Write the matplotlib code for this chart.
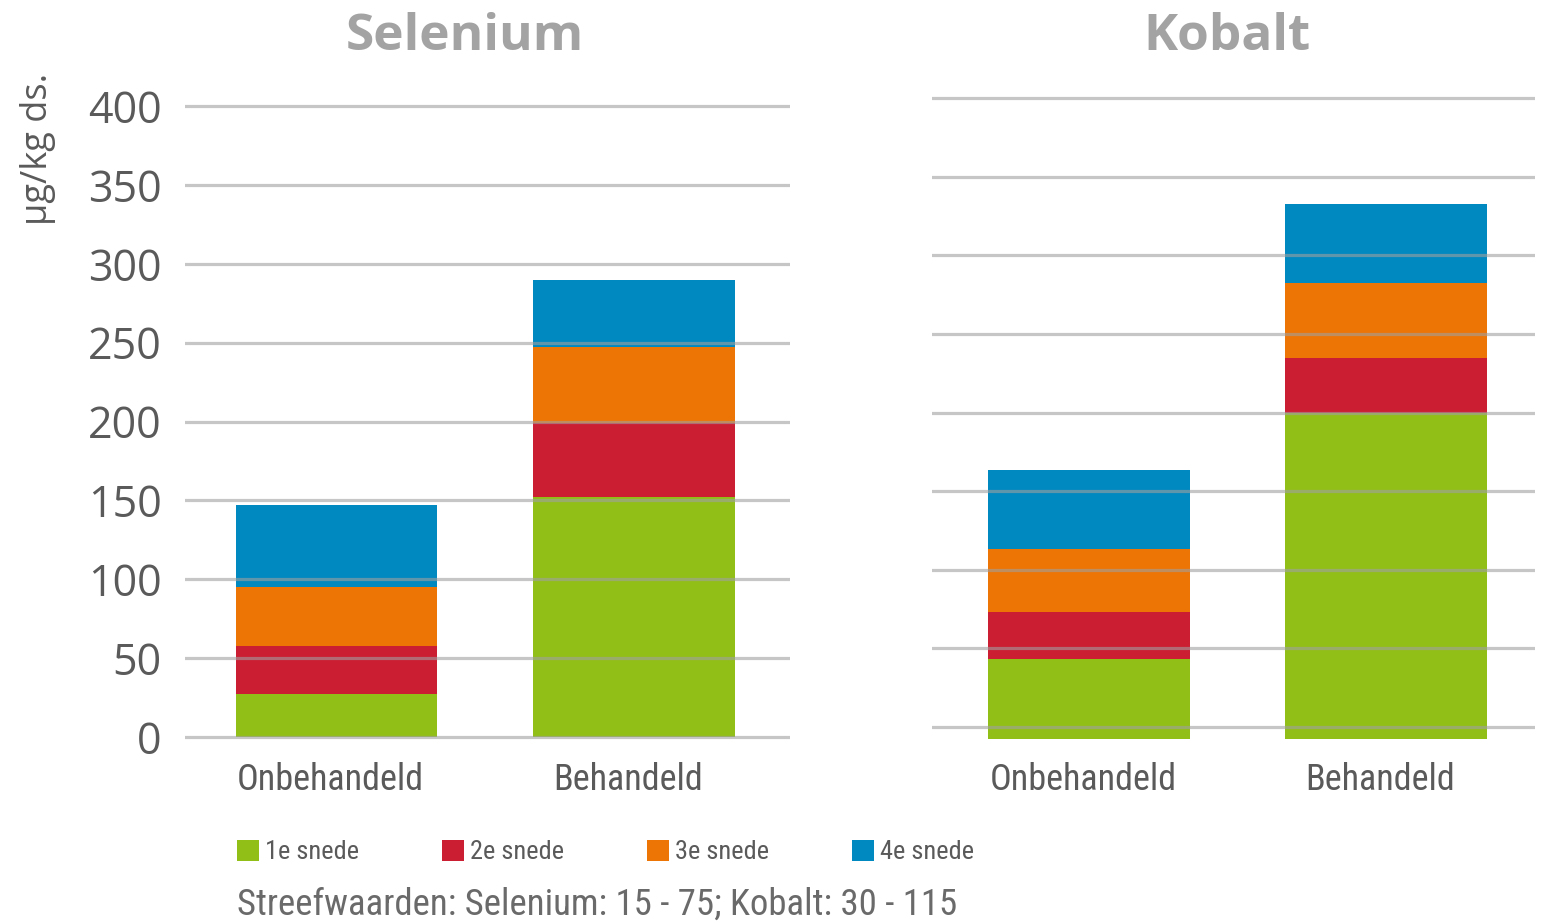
import matplotlib
matplotlib.use("Agg")
import matplotlib.pyplot as plt
from matplotlib import font_manager
import numpy as np

# ---------------- data ----------------
categories = ["Onbehandeld", "Behandeld"]
series_labels = ["1e snede", "2e snede", "3e snede", "4e snede"]
selenium = {
    "1e snede": [27, 152],
    "2e snede": [31, 47],
    "3e snede": [37, 48],
    "4e snede": [52, 43],
}
kobalt = {
    "1e snede": [51, 207],
    "2e snede": [30, 35],
    "3e snede": [40, 48],
    "4e snede": [50, 50],
}
yticks = [0, 50, 100, 150, 200, 250, 300, 350, 400]
colors = ["#92be18", "#cc1e33", "#ec7505", "#0088c0"]
title_sel = "Selenium"
title_kob = "Kobalt"
ylabel = "µg/kg ds."
footer = "Streefwaarden: Selenium: 15 - 75; Kobalt: 30 - 115"


def pick(*fams):
    for f in fams:
        try:
            font_manager.findfont(font_manager.FontProperties(family=f),
                                  fallback_to_default=False)
            return f
        except Exception:
            continue
    return "DejaVu Sans"

F_MAIN = pick("Open Sans", "Lato", "DejaVu Sans")
F_NARROW = pick("Liberation Sans Narrow", "Roboto Condensed", "Open Sans")

W, H = 1543, 923
fig = plt.figure(figsize=(W / 100, H / 100), dpi=100)
fig.patch.set_facecolor("white")


def rect(x0, x1, zero_px, scale, lo, hi):
    bottom = zero_px - lo * scale
    top = zero_px - hi * scale
    return [x0 / W, (H - bottom) / H, (x1 - x0) / W, (bottom - top) / H]


GRID_C = "#a0a0a0"
TXT = "#5a5a5a"


def draw(ax, data, width, grid_vals):
    x = np.arange(len(categories))
    bottom = np.zeros(len(categories))
    handles = []
    for lab, col in zip(series_labels, colors):
        vals = np.array(data[lab], dtype=float)
        b = ax.bar(x, vals, width, bottom=bottom, color=col, label=lab,
                   zorder=2, linewidth=0)
        handles.append(b)
        bottom += vals
    for g in grid_vals:
        ax.axhline(g, color=GRID_C, alpha=0.6, lw=2.3, zorder=3)
    for s in ax.spines.values():
        s.set_visible(False)
    ax.set_xticks(x - 0.02)
    ax.set_xticklabels(categories, family=F_NARROW, fontsize=26, color=TXT)
    ax.tick_params(axis="both", length=0)
    return handles


# Selenium panel
s_sel = (737 - 106) / 400.0
lo, hi = -5, 430
ax1 = fig.add_axes(rect(185, 790, 737, s_sel, lo, hi))
ax1.set_ylim(lo, hi)
ax1.set_xlim(-0.509, 1.524)
handles = draw(ax1, selenium, 0.676, yticks)
ax1.set_yticks(yticks)
ax1.set_yticklabels([str(v) for v in yticks], family=F_MAIN, fontsize=31, color=TXT)
ax1.tick_params(axis="y", pad=17)
ax1.tick_params(axis="x", pad=(762 - (737 - lo * s_sel)) * 72 / 100)

# Kobalt panel (grid lines slightly above bar base, as in source)
s_kob = (727 - 98) / 400.0
zero_k = 739
off = (zero_k - 727) / s_kob
ax2 = fig.add_axes(rect(932, 1535, zero_k, s_kob, lo, hi))
ax2.set_ylim(lo, hi)
ax2.set_xlim(-0.5286, 1.5017)
draw(ax2, kobalt, 0.68, [v + off for v in yticks])
ax2.set_yticks([])
ax2.tick_params(axis="x", pad=(762 - (zero_k - lo * s_kob)) * 72 / 100)

# titles
fig.text(465 / W, 1 - 37 / H, title_sel, ha="center", va="center",
         family=F_MAIN, fontweight="bold", fontsize=37, color="#a3a3a3")
fig.text(1227 / W, 1 - 37 / H, title_kob, ha="center", va="center",
         family=F_MAIN, fontweight="bold", fontsize=37, color="#a3a3a3")

# y label
fig.text(38 / W, 1 - 149 / H, ylabel, rotation=90, ha="center", va="center",
         family=F_MAIN, fontsize=26, color=TXT)

# legend
leg = fig.legend(handles=handles, labels=series_labels, loc="center left",
                 bbox_to_anchor=(237 / W, 1 - 852 / H), ncol=4, frameon=False,
                 prop={"family": F_NARROW, "size": 19},
                 handlelength=0.85, handleheight=0.85, handletextpad=0.2,
                 columnspacing=3.15, borderaxespad=0, borderpad=0)
for t in leg.get_texts():
    t.set_color(TXT)

# footer
fig.text(237 / W, 1 - 905 / H, footer, ha="left", va="center",
         family=F_NARROW, fontsize=26.5, color="#6a6a6a")

fig.savefig("out.png", dpi=100, facecolor="white")
